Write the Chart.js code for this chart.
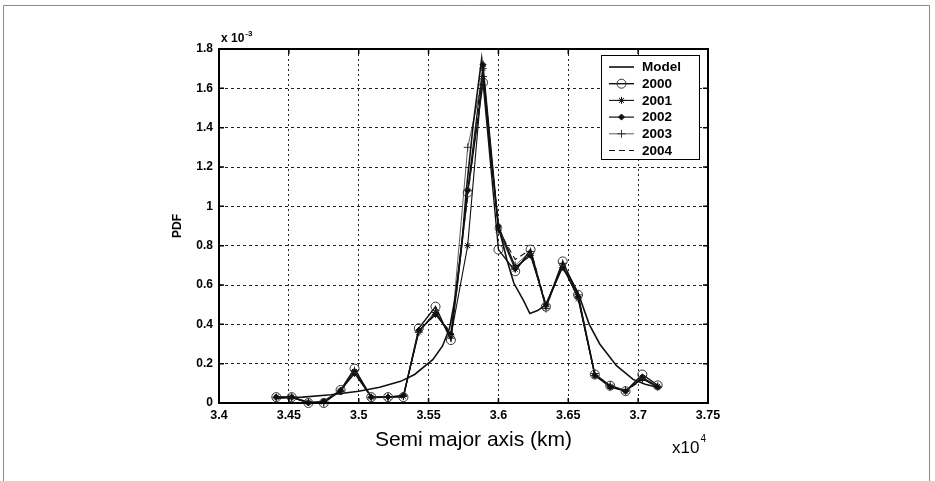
<!DOCTYPE html>
<html>
<head>
<meta charset="utf-8">
<script src="https://cdn.jsdelivr.net/npm/chart.js@4.4.1/dist/chart.umd.min.js"></script>
<style>
  html, body { margin: 0; padding: 0; background: #fff; }
  #wrap { width: 935px; height: 481px; position: relative; }
</style>
</head>
<body>
<div id="wrap"><canvas id="c" width="935" height="481"></canvas></div>
<script>
// Semi major axis bins (x 10^4 km) shared by the yearly histograms
const semiMajorAxis = [3.441, 3.452, 3.464, 3.475, 3.487, 3.497, 3.509, 3.521, 3.532, 3.543,
  3.555, 3.566, 3.578, 3.589, 3.600, 3.612, 3.623, 3.634, 3.646, 3.657,
  3.669, 3.680, 3.691, 3.703, 3.714];

// PDF values (x 10^-3) per year
const pdf2000 = [0.03, 0.03, 0.0, 0.0, 0.066, 0.175, 0.03, 0.03, 0.03, 0.38,
  0.49, 0.32, 1.07, 1.63, 0.78, 0.67, 0.78, 0.49, 0.72, 0.55,
  0.145, 0.088, 0.06, 0.145, 0.09];
const pdf2001 = [0.03, 0.03, 0.005, 0.005, 0.06, 0.16, 0.03, 0.03, 0.035, 0.36,
  0.46, 0.34, 0.80, 1.70, 0.88, 0.68, 0.76, 0.49, 0.70, 0.53,
  0.14, 0.085, 0.06, 0.13, 0.085];
const pdf2002 = [0.03, 0.03, 0.0, 0.01, 0.065, 0.15, 0.03, 0.03, 0.04, 0.37,
  0.45, 0.35, 1.08, 1.72, 0.90, 0.69, 0.75, 0.50, 0.69, 0.54,
  0.14, 0.08, 0.06, 0.125, 0.08];
const pdf2003 = [0.025, 0.03, 0.005, 0.0, 0.06, 0.165, 0.025, 0.03, 0.035, 0.36,
  0.47, 0.33, 1.30, 1.66, 0.89, 0.70, 0.77, 0.48, 0.71, 0.55,
  0.15, 0.09, 0.065, 0.12, 0.085];
const pdf2004 = [0.03, 0.03, 0.0, 0.005, 0.06, 0.16, 0.03, 0.03, 0.03, 0.37,
  0.45, 0.36, 1.05, 1.68, 0.88, 0.73, 0.78, 0.50, 0.70, 0.54,
  0.14, 0.085, 0.06, 0.12, 0.085];

// Fitted model curve
const modelX = [3.441, 3.46, 3.48, 3.50, 3.515, 3.53, 3.54, 3.553, 3.56, 3.565,
  3.570, 3.574, 3.577, 3.582, 3.588, 3.594, 3.600, 3.606, 3.611, 3.618,
  3.6225, 3.628, 3.634, 3.640, 3.645, 3.651, 3.657, 3.665, 3.6725, 3.6845,
  3.6964, 3.705, 3.714];
const modelY = [0.025, 0.03, 0.042, 0.06, 0.08, 0.11, 0.145, 0.22, 0.29, 0.38,
  0.57, 0.82, 1.08, 1.42, 1.75, 1.29, 0.90, 0.73, 0.61, 0.52,
  0.455, 0.47, 0.50, 0.60, 0.69, 0.64, 0.56, 0.40, 0.30, 0.19,
  0.12, 0.095, 0.08];

// Axis ticks and labels
const xTicks = [3.4, 3.45, 3.5, 3.55, 3.6, 3.65, 3.7, 3.75];
const xTickLabels = ['3.4', '3.45', '3.5', '3.55', '3.6', '3.65', '3.7', '3.75'];
const yTicks = [0, 0.2, 0.4, 0.6, 0.8, 1, 1.2, 1.4, 1.6, 1.8];
const yTickLabels = ['0', '0.2', '0.4', '0.6', '0.8', '1', '1.2', '1.4', '1.6', '1.8'];

const seriesNames = ['Model', '2000', '2001', '2002', '2003', '2004'];
const xAxisTitle = 'Semi major axis (km)';

const toPoints = (xs, ys) => xs.map((x, i) => ({ x: x, y: ys[i] }));

const INK = '#111';
const FONT = "'Liberation Sans', Arial, sans-serif";

const datasets = [
  { label: seriesNames[0], data: toPoints(modelX, modelY), borderColor: INK, borderWidth: 1.6,
    pointRadius: 0, tension: 0 },
  { label: seriesNames[1], data: toPoints(semiMajorAxis, pdf2000), borderColor: INK, borderWidth: 1.4,
    pointStyle: 'circle', pointRadius: 4.5, pointBorderWidth: 1, pointBorderColor: '#333',
    pointBackgroundColor: 'rgba(255,255,255,0)' },
  { label: seriesNames[2], data: toPoints(semiMajorAxis, pdf2001), borderColor: INK, borderWidth: 1.1,
    pointStyle: 'star', pointRadius: 3.5, pointBorderWidth: 1, pointBorderColor: INK },
  { label: seriesNames[3], data: toPoints(semiMajorAxis, pdf2002), borderColor: INK, borderWidth: 1.2,
    pointStyle: 'rectRot', pointRadius: 3, pointBorderWidth: 1, pointBorderColor: INK,
    pointBackgroundColor: INK },
  { label: seriesNames[4], data: toPoints(semiMajorAxis, pdf2003), borderColor: '#333', borderWidth: 0.8,
    pointStyle: 'cross', pointRadius: 4, pointBorderWidth: 1, pointBorderColor: '#333' },
  { label: seriesNames[5], data: toPoints(semiMajorAxis, pdf2004), borderColor: INK, borderWidth: 1.1,
    borderDash: [6, 4], pointRadius: 0 }
];
datasets.forEach(d => { d.fill = false; d.clip = false; });

// Box, inward ticks, axis title, exponent labels and the outer frame
const framePlugin = {
  id: 'framePlugin',
  afterDraw(chart) {
    const { ctx, chartArea: a, scales } = chart;
    ctx.save();
    // outer frame
    ctx.strokeStyle = '#8a8a8a';
    ctx.lineWidth = 1;
    ctx.beginPath();
    ctx.moveTo(3.5, 481); ctx.lineTo(3.5, 5.5); ctx.lineTo(929.5, 5.5); ctx.lineTo(929.5, 481);
    ctx.stroke();
    // plot box
    ctx.strokeStyle = '#000';
    ctx.lineWidth = 2;
    ctx.strokeRect(a.left, a.top, a.right - a.left, a.bottom - a.top);
    // inward ticks
    ctx.lineWidth = 1.5;
    ctx.beginPath();
    xTicks.forEach(v => {
      const px = scales.x.getPixelForValue(v);
      ctx.moveTo(px, a.bottom); ctx.lineTo(px, a.bottom - 5);
      ctx.moveTo(px, a.top); ctx.lineTo(px, a.top + 5);
    });
    yTicks.forEach(v => {
      const py = scales.y.getPixelForValue(v);
      ctx.moveTo(a.left, py); ctx.lineTo(a.left + 5, py);
      ctx.moveTo(a.right, py); ctx.lineTo(a.right - 5, py);
    });
    ctx.stroke();
    // x axis title
    ctx.fillStyle = '#000';
    ctx.textAlign = 'center';
    ctx.textBaseline = 'middle';
    ctx.font = '21px ' + FONT;
    ctx.fillText(xAxisTitle, (a.left + a.right) / 2 + 10, 440);
    // exponent labels
    ctx.textBaseline = 'alphabetic';
    ctx.textAlign = 'left';
    ctx.font = 'bold 12px ' + FONT;
    ctx.fillText('x 10', a.left + 2, a.top - 7);
    const w1 = ctx.measureText('x 10').width;
    ctx.font = 'bold 8px ' + FONT;
    ctx.fillText('-3', a.left + 3 + w1, a.top - 13);
    ctx.font = '17px ' + FONT;
    ctx.fillText('x10', 672, 453);
    const w2 = ctx.measureText('x10').width;
    ctx.font = '10px ' + FONT;
    ctx.fillText('4', 673 + w2, 442);
    ctx.restore();
  }
};

// Legend box inside the plot, top right
const legendPlugin = {
  id: 'boxLegend',
  afterDraw(chart) {
    const { ctx } = chart;
    const x0 = 601, y0 = 55, w = 98, h = 104;
    ctx.save();
    ctx.fillStyle = '#fff';
    ctx.fillRect(x0, y0, w, h);
    ctx.strokeStyle = '#000';
    ctx.lineWidth = 1;
    ctx.strokeRect(x0 + 0.5, y0 + 0.5, w, h);
    const rowH = 16.7;
    chart.data.datasets.forEach((ds, i) => {
      const cy = y0 + 12 + i * rowH;
      const lx1 = x0 + 8, lx2 = x0 + 33;
      ctx.strokeStyle = ds.borderColor;
      ctx.lineWidth = ds.borderWidth;
      ctx.setLineDash(ds.borderDash || []);
      ctx.beginPath();
      ctx.moveTo(lx1, cy); ctx.lineTo(lx2, cy);
      ctx.stroke();
      ctx.setLineDash([]);
      if (ds.pointRadius > 0) {
        ctx.strokeStyle = ds.pointBorderColor || INK;
        ctx.fillStyle = ds.pointBackgroundColor || INK;
        ctx.lineWidth = ds.pointBorderWidth || 1;
        Chart.helpers.drawPoint(ctx, {
          pointStyle: ds.pointStyle, radius: ds.pointRadius, rotation: 0,
          borderWidth: ds.pointBorderWidth || 1
        }, (lx1 + lx2) / 2, cy);
      }
      ctx.fillStyle = '#000';
      ctx.font = 'bold 13.5px ' + FONT;
      ctx.textAlign = 'left';
      ctx.textBaseline = 'middle';
      ctx.fillText(ds.label, x0 + 41, cy + 0.5);
    });
    ctx.restore();
  }
};

new Chart(document.getElementById('c'), {
  type: 'line',
  data: { datasets: datasets },
  options: {
    responsive: false,
    animation: false,
    devicePixelRatio: 1,
    layout: { padding: { left: 170, top: 49, right: 227, bottom: 28 } },
    plugins: { legend: { display: false }, tooltip: { enabled: false } },
    elements: { line: { tension: 0 } },
    scales: {
      x: {
        type: 'linear', min: 3.4, max: 3.75,
        afterBuildTicks: s => { s.ticks = xTicks.map(v => ({ value: v })); },
        afterFit: s => { s.height = 481 - 403 - 28; },
        grid: { color: '#222', lineWidth: 1, drawTicks: false },
        border: { display: false, dash: [2, 3] },
        ticks: {
          padding: 5, color: '#000', maxRotation: 0, autoSkip: false,
          font: { family: FONT, size: 12.5, weight: 'bold' },
          callback: (v, i) => xTickLabels[i]
        }
      },
      y: {
        type: 'linear', min: 0, max: 1.8,
        afterBuildTicks: s => { s.ticks = yTicks.map(v => ({ value: v })); },
        afterFit: s => { s.width = 219 - 170; },
        grid: { color: '#222', lineWidth: 1, drawTicks: false },
        border: { display: false, dash: [3, 3] },
        ticks: {
          padding: 6, color: '#000', autoSkip: false,
          font: { family: FONT, size: 12, weight: 'bold' },
          callback: (v, i) => yTickLabels[i]
        },
        title: {
          display: true, text: 'PDF', color: '#000',
          font: { family: FONT, size: 12, weight: 'bold' }, padding: 0
        }
      }
    }
  },
  plugins: [framePlugin, legendPlugin]
});
</script>
</body>
</html>
